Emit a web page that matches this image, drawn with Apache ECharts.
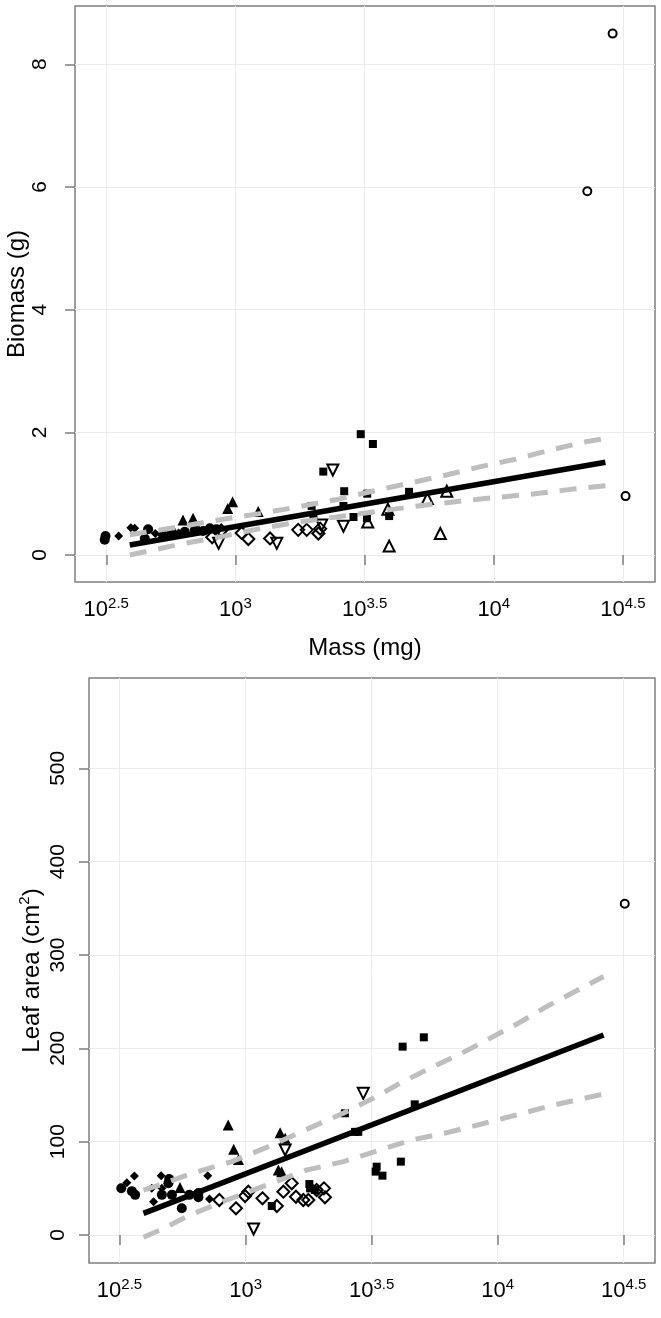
<!DOCTYPE html>
<html><head><meta charset="utf-8">
<script src="https://cdn.jsdelivr.net/npm/echarts@6/dist/echarts.min.js"></script>
<style>html,body{margin:0;padding:0;background:#fff}#c{width:661px;height:1318px}</style>
</head><body><div id="c"></div>
<script>
// x: log10 of mass (mg)
const xTickValues = [2.5, 3, 3.5, 4, 4.5];
const xTickLabels = ['2.5', '3', '3.5', '4', '4.5'];
const biomassTicks = [0, 2, 4, 6, 8];
const leafTicks = [0, 100, 200, 300, 400, 500];

// Top panel: [log10 mass, biomass (g)]
const bioFilledCircle = [[2.494,0.25],[2.497,0.31],[2.649,0.27],[2.662,0.42],[2.72,0.32],[2.753,0.38],[2.804,0.38],[2.843,0.41],[2.875,0.39],[2.901,0.435],[2.927,0.42]];
const bioFilledDiamond = [[2.548,0.31],[2.595,0.445],[2.610,0.435],[2.69,0.35],[2.78,0.36],[2.86,0.40]];
const bioFilledTriangle = [[2.797,0.57],[2.836,0.60],[2.970,0.76],[2.989,0.87],[3.088,0.71]];
const bioOpenDiamond = [[2.910,0.29],[2.945,0.40],[3.024,0.36],[3.050,0.26],[3.134,0.27],[3.243,0.41],[3.276,0.41],[3.321,0.35],[3.328,0.43]];
const bioOpenDown = [[2.935,0.19],[3.160,0.19],[3.334,0.49],[3.377,1.385],[3.418,0.47]];
const bioFilledSquare = [[3.295,0.80],[3.302,0.62],[3.340,1.36],[3.418,0.80],[3.421,1.04],[3.457,0.62],[3.485,1.97],[3.509,0.60],[3.510,1.00],[3.532,1.81],[3.595,0.635],[3.672,1.03]];
const bioOpenUp = [[3.512,0.54],[3.590,0.745],[3.595,0.145],[3.743,0.92],[3.793,0.35],[3.818,1.04]];
const bioOpenCircle = [[4.362,5.93],[4.46,8.5],[4.51,0.96]];
const bioFit = [[2.591,0.163],[4.432,1.511]];
const bioUpper = [[2.591,0.33],[2.798,0.47],[2.946,0.58],[3.101,0.68],[3.250,0.79],[3.398,0.91],[3.541,1.05],[3.683,1.18],[3.812,1.30],[3.948,1.44],[4.083,1.56],[4.219,1.71],[4.361,1.85],[4.432,1.90]];
const bioLower = [[2.591,0.0],[2.791,0.18],[2.946,0.30],[3.101,0.435],[3.250,0.54],[3.398,0.625],[3.547,0.71],[3.689,0.79],[3.851,0.87],[4.000,0.935],[4.141,0.99],[4.297,1.07],[4.432,1.13]];

// Bottom panel: [log10 mass, leaf area (cm2)]
const leafFilledCircle = [[2.507,50],[2.549,47],[2.562,43],[2.668,43],[2.694,55.4],[2.697,60],[2.708,43],[2.747,28.6],[2.777,43],[2.813,45],[2.813,40.5]];
const leafFilledDiamond = [[2.529,56],[2.559,63.2],[2.628,50],[2.635,35.7],[2.665,63.5],[2.668,50],[2.850,63.5],[2.857,38.6]];
const leafFilledTriangle = [[2.740,51],[2.931,117.9],[2.953,91.8],[2.972,81],[3.130,69.6],[3.137,109.6],[3.143,67.8],[3.157,103.6]];
const leafOpenDiamond = [[2.896,37.5],[2.962,28.6],[2.998,41.8],[3.011,46.4],[3.067,39.3],[3.124,31.1],[3.150,46.4],[3.183,55.4],[3.200,41],[3.229,37.5],[3.249,37.5],[3.282,48.2],[3.311,50],[3.315,40.4]];
const leafOpenDown = [[3.032,6.4],[3.157,91],[3.467,151.8]];
const leafFilledSquare = [[3.104,31.1],[3.253,54.6],[3.256,50],[3.275,48.2],[3.394,130.4],[3.434,110.5],[3.447,110.5],[3.516,67.9],[3.520,73.2],[3.543,63.6],[3.616,78.6],[3.623,201.8],[3.671,140],[3.707,211.8]];
const leafOpenCircle = [[4.504,355]];
const leafFit = [[2.595,23.2],[4.420,214.3]];
const leafUpper = [[2.595,48.2],[2.668,54.3],[2.787,66.1],[2.945,78.6],[3.097,95.4],[3.242,113.2],[3.387,130.4],[3.506,146.5],[3.612,162.5],[3.731,178.6],[3.857,194.7],[3.969,210.7],[4.081,226.8],[4.193,244.6],[4.420,277]];
const leafLower = [[2.595,-2.5],[2.661,5.4],[2.780,21.4],[2.926,37.5],[3.084,53.6],[3.242,69.6],[3.388,78.6],[3.520,90],[3.659,101.8],[3.797,109.6],[3.936,118.9],[4.074,128.6],[4.206,138.2],[4.372,148.2],[4.420,151]];

const FONT = 'Liberation Sans, Arial, sans-serif';
const GRAY = '#7f7f7f';

function sc(data, gi, symbol, size, open, rotate) {
  return {
    type: 'scatter', xAxisIndex: gi, yAxisIndex: gi, data: data,
    symbol: symbol, symbolSize: size, symbolRotate: rotate || 0, z: 2,
    itemStyle: open ? { color: 'rgba(0,0,0,0)', borderColor: '#000', borderWidth: 2, opacity: 1 } : { color: '#000', borderWidth: 0, opacity: 1 },
    silent: true
  };
}
function ln(data, gi, dashed) {
  return {
    type: 'line', xAxisIndex: gi, yAxisIndex: gi, data: data, showSymbol: false, symbol: 'none',
    z: dashed ? 3 : 4, silent: true,
    lineStyle: dashed ? { color: '#bebebe', width: 5, type: [17, 12], cap: 'butt', opacity: 1 } : { color: '#000', width: 5.5, cap: 'butt', opacity: 1 }
  };
}
function xAx(gi, name) {
  return {
    type: 'value', gridIndex: gi, min: 2.379, max: 4.624,
    name: name || '', nameLocation: 'middle', nameGap: 54, nameMoveOverlap: false,
    nameTextStyle: { fontSize: 24, fontFamily: FONT, color: '#000' },
    axisLine: { show: false },
    axisTick: { show: true, length: 10, customValues: xTickValues, lineStyle: { color: GRAY, width: 1.5 } },
    axisLabel: {
      show: true, margin: 14, customValues: xTickValues,
      formatter: function (v) { const i = xTickValues.findIndex(t => Math.abs(t - v) < 1e-9); return '{b|10}{s|' + xTickLabels[i] + '}'; },
      rich: {
        b: { fontSize: 22, fontFamily: FONT, color: '#000', lineHeight: 28 },
        s: { fontSize: 15, fontFamily: FONT, color: '#000', lineHeight: 28, verticalAlign: 'top' }
      }
    },
    splitLine: { show: true, lineStyle: { color: '#ebebeb', width: 1 } }
  };
}
function yAx(gi, min, max, ticks, name, gap, margin) {
  return {
    type: 'value', gridIndex: gi, min: min, max: max,
    name: name, nameLocation: 'middle', nameGap: gap, nameRotate: 90, nameMoveOverlap: false,
    nameTextStyle: {
      fontSize: 24, fontFamily: FONT, color: '#000',
      rich: { a: { fontSize: 24, fontFamily: FONT, color: '#000', lineHeight: 30 }, s: { fontSize: 15, fontFamily: FONT, color: '#000', lineHeight: 30, verticalAlign: 'top' } }
    },
    axisLine: { show: false },
    axisTick: { show: true, length: 10, customValues: ticks, lineStyle: { color: GRAY, width: 1.5 } },
    axisLabel: { show: true, rotate: 90, margin: margin, customValues: ticks, fontSize: 21, fontFamily: FONT, color: '#000' },
    splitLine: { show: true, lineStyle: { color: '#ebebeb', width: 1 } }
  };
}

const chart = echarts.init(document.getElementById('c'), null, { renderer: 'canvas' });
chart.setOption({
  backgroundColor: '#fff',
  animation: false,
  grid: [
    { left: 75, top: 6, width: 580, height: 576, show: true, borderColor: GRAY, borderWidth: 1.5, backgroundColor: '#fff', containLabel: false, outerBoundsMode: 'none' },
    { left: 89, top: 678, width: 566, height: 585, show: true, borderColor: GRAY, borderWidth: 1.5, backgroundColor: '#fff', containLabel: false, outerBoundsMode: 'none' }
  ],
  xAxis: [xAx(0, 'Mass (mg)'), xAx(1, '')],
  yAxis: [
    yAx(0, -0.44, 8.95, biomassTicks, 'Biomass (g)', 46, 24),
    yAx(1, -30, 596.8, leafTicks, '{a|Leaf area (cm}{s|2}{a|)}', 42, 20)
  ],
  series: [
    sc(bioFilledCircle, 0, 'circle', 10, false),
    sc(bioFilledDiamond, 0, 'diamond', 9, false),
    sc(bioFilledTriangle, 0, 'triangle', 11, false),
    sc(bioOpenDiamond, 0, 'diamond', 12, true),
    sc(bioOpenDown, 0, 'triangle', 11, true, 180),
    sc(bioFilledSquare, 0, 'rect', 8, false),
    sc(bioOpenUp, 0, 'triangle', 11, true),
    sc(bioOpenCircle, 0, 'circle', 8, true),
    ln(bioUpper, 0, true), ln(bioLower, 0, true), ln(bioFit, 0, false),
    sc(leafFilledCircle, 1, 'circle', 10, false),
    sc(leafFilledDiamond, 1, 'diamond', 9, false),
    sc(leafFilledTriangle, 1, 'triangle', 11, false),
    sc(leafOpenDiamond, 1, 'diamond', 12, true),
    sc(leafOpenDown, 1, 'triangle', 11, true, 180),
    sc(leafFilledSquare, 1, 'rect', 8, false),
    sc(leafOpenCircle, 1, 'circle', 8, true),
    ln(leafUpper, 1, true), ln(leafLower, 1, true), ln(leafFit, 1, false)
  ]
});
</script>
</body></html>
